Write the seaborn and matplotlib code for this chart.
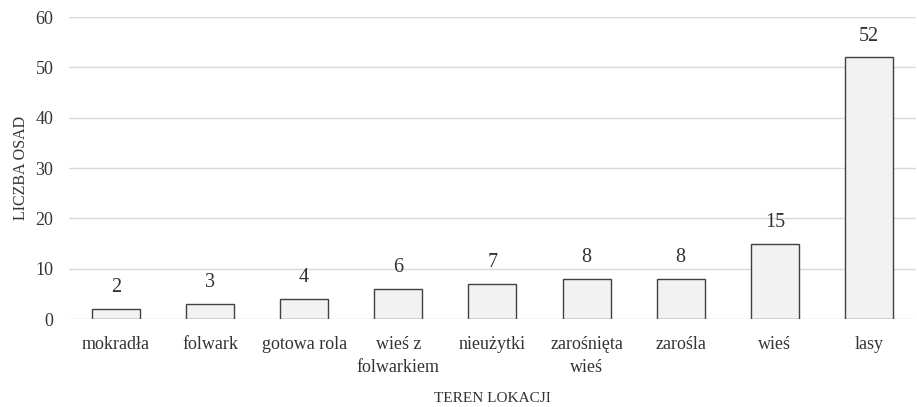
import matplotlib

matplotlib.use("Agg")

import matplotlib.pyplot as plt
import pandas as pd
import seaborn as sns

categories = ["mokradła", "folwark", "gotowa rola", "wieś z\nfolwarkiem", "nieużytki",
              "zarośnięta\nwieś", "zarośla", "wieś", "lasy"]
counts = [2, 3, 4, 6, 7, 8, 8, 15, 52]
y_ticks = [0, 10, 20, 30, 40, 50, 60]

sns.set_theme(style="white")
plt.rcParams["font.family"] = ["Liberation Serif", "DejaVu Serif"]

df = pd.DataFrame({"teren": categories, "liczba": counts})

fig = plt.figure(figsize=(9.17, 4.07), dpi=100)
ax = fig.add_axes([0.075, 0.216, 0.924, 0.742])

ax.yaxis.grid(True, color="#d9d9d9", linewidth=1)
ax.set_axisbelow(True)

sns.barplot(data=df, x="teren", y="liczba", ax=ax, color="#f2f2f2",
            edgecolor="#404040", linewidth=1, width=0.51, saturation=1)

for i, v in enumerate(counts):
    ax.text(i, v + 2.3, str(v), ha="center", va="bottom", fontsize=14.5, color="#333333")

ax.set_ylim(0, 60)
ax.set_yticks(y_ticks)
ax.tick_params(axis="both", length=0, labelsize=13, colors="#333333")
ax.tick_params(axis="y", pad=11)
ax.tick_params(axis="x", pad=12)
for lab in ax.get_xticklabels():
    lab.set_linespacing(1.45)
    lab.set_verticalalignment("top")

sns.despine(ax=ax, left=True, bottom=True)
ax.set_xlabel("TEREN LOKACJI", fontsize=11, color="#333333", labelpad=12)
ax.set_ylabel("LICZBA OSAD", fontsize=11.5, color="#333333", labelpad=5)

fig.savefig("out.png", dpi=100)
plt.close(fig)
